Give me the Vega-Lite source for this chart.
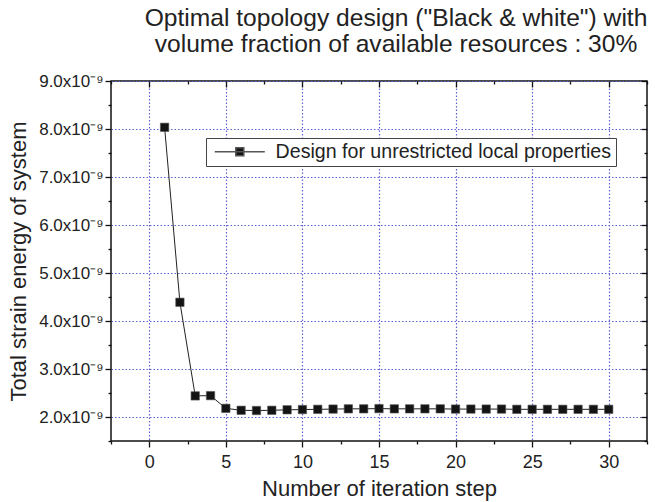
{
  "$schema": "https://vega.github.io/schema/vega-lite/v6.json",
  "width": 536,
  "height": 360,
  "autosize": "none",
  "padding": {"left": 111, "top": 81, "right": 8, "bottom": 61},
  "background": "white",
  "config": {
    "font": "Liberation Sans",
    "view": {"stroke": "#111", "strokeWidth": 1.5},
    "axis": {"labelFont": "Liberation Sans", "titleFont": "Liberation Sans", "labelColor": "#222", "titleColor": "#222", "titleFontWeight": "normal", "tickColor": "#111", "tickWidth": 1.3, "domain": false}
  },
  "title": {
    "text": ["Optimal topology design (\"Black & white\") with", "volume fraction of available resources : 30%"],
    "fontSize": 24.6,
    "fontWeight": "normal",
    "font": "Liberation Sans",
    "color": "#222",
    "lineHeight": 26,
    "anchor": "middle",
    "dx": 17,
    "offset": 14
  },
  "data": {
    "values": [
      {"step": 1, "energy": 8.035e-9, "series": "Design for unrestricted local properties"},
      {"step": 2, "energy": 4.39e-9, "series": "Design for unrestricted local properties"},
      {"step": 3, "energy": 2.44e-9, "series": "Design for unrestricted local properties"},
      {"step": 4, "energy": 2.445e-9, "series": "Design for unrestricted local properties"},
      {"step": 5, "energy": 2.18e-9, "series": "Design for unrestricted local properties"},
      {"step": 6, "energy": 2.14e-9, "series": "Design for unrestricted local properties"},
      {"step": 7, "energy": 2.135e-9, "series": "Design for unrestricted local properties"},
      {"step": 8, "energy": 2.14e-9, "series": "Design for unrestricted local properties"},
      {"step": 9, "energy": 2.15e-9, "series": "Design for unrestricted local properties"},
      {"step": 10, "energy": 2.155e-9, "series": "Design for unrestricted local properties"},
      {"step": 11, "energy": 2.16e-9, "series": "Design for unrestricted local properties"},
      {"step": 12, "energy": 2.165e-9, "series": "Design for unrestricted local properties"},
      {"step": 13, "energy": 2.17e-9, "series": "Design for unrestricted local properties"},
      {"step": 14, "energy": 2.17e-9, "series": "Design for unrestricted local properties"},
      {"step": 15, "energy": 2.175e-9, "series": "Design for unrestricted local properties"},
      {"step": 16, "energy": 2.17e-9, "series": "Design for unrestricted local properties"},
      {"step": 17, "energy": 2.17e-9, "series": "Design for unrestricted local properties"},
      {"step": 18, "energy": 2.17e-9, "series": "Design for unrestricted local properties"},
      {"step": 19, "energy": 2.17e-9, "series": "Design for unrestricted local properties"},
      {"step": 20, "energy": 2.165e-9, "series": "Design for unrestricted local properties"},
      {"step": 21, "energy": 2.165e-9, "series": "Design for unrestricted local properties"},
      {"step": 22, "energy": 2.165e-9, "series": "Design for unrestricted local properties"},
      {"step": 23, "energy": 2.165e-9, "series": "Design for unrestricted local properties"},
      {"step": 24, "energy": 2.16e-9, "series": "Design for unrestricted local properties"},
      {"step": 25, "energy": 2.16e-9, "series": "Design for unrestricted local properties"},
      {"step": 26, "energy": 2.16e-9, "series": "Design for unrestricted local properties"},
      {"step": 27, "energy": 2.16e-9, "series": "Design for unrestricted local properties"},
      {"step": 28, "energy": 2.16e-9, "series": "Design for unrestricted local properties"},
      {"step": 29, "energy": 2.16e-9, "series": "Design for unrestricted local properties"},
      {"step": 30, "energy": 2.16e-9, "series": "Design for unrestricted local properties"}
    ]
  },
  "layer": [
    {
      "mark": {"type": "line", "color": "#222", "strokeWidth": 1},
      "encoding": {
        "x": {"field": "step", "type": "quantitative", "scale": {"domain": [-2.5, 32.5], "nice": false, "zero": false},
          "axis": {"orient": "bottom", "values": [0, 5, 10, 15, 20, 25, 30], "grid": true, "gridDash": [1.5, 2], "gridColor": "#6060d0", "gridOpacity": 1, "gridWidth": 1.2, "tickSize": 6, "labelFontSize": 18, "labelPadding": 6, "title": "Number of iteration step", "titleFontSize": 22, "titlePadding": 7}},
        "y": {"field": "energy", "type": "quantitative", "scale": {"domain": [1.5e-9, 9e-9], "nice": false, "zero": false},
          "axis": {"orient": "left", "values": [2e-9, 3e-9, 4e-9, 5e-9, 6e-9, 7e-9, 8e-9, 9e-9], "grid": true, "gridDash": [1.5, 2], "gridColor": "#6060d0", "gridOpacity": 1, "gridWidth": 1.2, "tickSize": 6, "labelFontSize": 17, "labelPadding": 2, "labelExpr": "format(datum.value * 1e9, '.1f') + 'x10⁻⁹'", "title": "Total strain energy of system", "titleFontSize": 22, "titlePadding": 8}}
      }
    },
    {
      "mark": {"type": "point", "shape": "square", "filled": true, "size": 70, "opacity": 1, "stroke": "#555", "strokeWidth": 0.6},
      "encoding": {
        "x": {"field": "step", "type": "quantitative", "axis": null},
        "y": {"field": "energy", "type": "quantitative", "axis": null},
        "color": {"field": "series", "type": "nominal", "scale": {"range": ["#141414"]},
          "legend": {"orient": "none", "legendX": 95, "legendY": 57, "title": null, "labelFontSize": 19.6, "labelLimit": 0, "labelColor": "#222", "labelFont": "Liberation Sans", "strokeColor": "#444", "fillColor": "white", "padding": 4, "symbolSize": 100, "symbolType": "M-5,0H5M-0.8,-0.8H0.8V0.8H-0.8Z", "symbolOffset": 20, "labelOffset": 26,
            "encode": {"symbols": {"update": {"stroke": {"value": "#333"}, "strokeWidth": {"value": 1}, "fill": {"value": "#111"}}}}}}
      }
    },
    {
      "mark": {"type": "point", "opacity": 0},
      "encoding": {
        "x": {"field": "step", "type": "quantitative",
          "axis": {"orient": "bottom", "values": [-2.5, 2.5, 7.5, 12.5, 17.5, 22.5, 27.5, 32.5], "labels": false, "grid": false, "tickSize": 3, "title": null}},
        "y": {"field": "energy", "type": "quantitative",
          "axis": {"orient": "left", "values": [1.5e-9, 2.5e-9, 3.5e-9, 4.5e-9, 5.5e-9, 6.5e-9, 7.5e-9, 8.5e-9], "labels": false, "grid": false, "tickSize": 3, "title": null}}
      }
    },
    {
      "mark": {"type": "point", "opacity": 0},
      "encoding": {
        "x": {"field": "step", "type": "quantitative",
          "axis": {"orient": "top", "values": [0, 5, 10, 15, 20, 25, 30], "labels": false, "grid": false, "tickSize": 6, "offset": -6, "title": null}},
        "y": {"field": "energy", "type": "quantitative",
          "axis": {"orient": "right", "values": [2e-9, 3e-9, 4e-9, 5e-9, 6e-9, 7e-9, 8e-9, 9e-9], "labels": false, "grid": false, "tickSize": 6, "offset": -6, "title": null}}
      }
    },
    {
      "mark": {"type": "point", "opacity": 0},
      "encoding": {
        "x": {"field": "step", "type": "quantitative",
          "axis": {"orient": "top", "values": [-2.5, 2.5, 7.5, 12.5, 17.5, 22.5, 27.5, 32.5], "labels": false, "grid": false, "tickSize": 3, "offset": -3, "title": null}},
        "y": {"field": "energy", "type": "quantitative",
          "axis": {"orient": "right", "values": [1.5e-9, 2.5e-9, 3.5e-9, 4.5e-9, 5.5e-9, 6.5e-9, 7.5e-9, 8.5e-9], "labels": false, "grid": false, "tickSize": 3, "offset": -3, "title": null}}
      }
    }
  ],
  "resolve": {"axis": {"x": "independent", "y": "independent"}}
}
